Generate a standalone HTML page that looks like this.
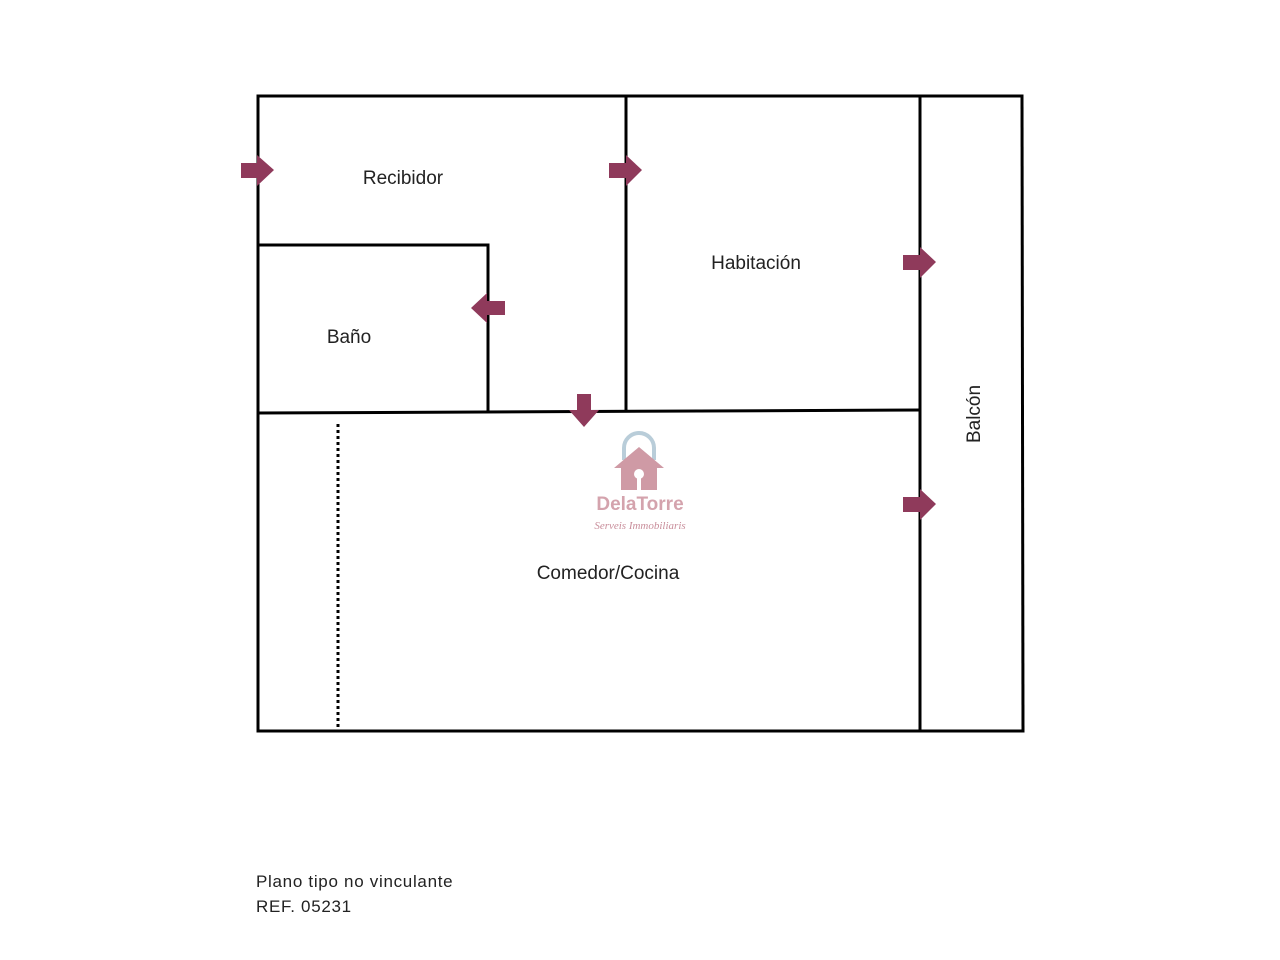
<!DOCTYPE html>
<html><head><meta charset="utf-8"><style>
html,body{margin:0;padding:0;background:#fff;}
svg{display:block;}
text{font-family:"Liberation Sans",sans-serif;fill:#222;}
</style></head><body>
<svg width="1280" height="960" viewBox="0 0 1280 960" xmlns="http://www.w3.org/2000/svg">
<g stroke="#000" stroke-width="3" fill="none" stroke-linecap="square">
<line x1="258" y1="96" x2="1022" y2="96"/>
<line x1="258" y1="96" x2="258" y2="731"/>
<line x1="258" y1="731" x2="1023" y2="731"/>
<line x1="1022" y1="96" x2="1023" y2="731"/>
<line x1="626" y1="96" x2="626" y2="411"/>
<line x1="920" y1="96" x2="920" y2="731"/>
<line x1="258" y1="413" x2="920" y2="410"/>
<line x1="258" y1="245" x2="488" y2="245"/>
<line x1="488" y1="245" x2="488" y2="411"/>
</g>
<line x1="338" y1="424" x2="338" y2="731" stroke="#000" stroke-width="3" stroke-dasharray="3 3"/>
<g fill="#8f3a5b">
<polygon points="241,163 257,163 257,155 274,170 257,186 257,178 241,178"/>
<polygon points="609,163 626,163 626,155 642,170 626,186 626,178 609,178"/>
<polygon points="903,255 920,255 920,247 936,262 920,278 920,270 903,270"/>
<polygon points="903,497 920,497 920,489 936,504 920,520 920,512 903,512"/>
<polygon points="505,301 487,301 487,293 471,308 487,323 487,315 505,315"/>
<polygon points="577,394 591,394 591,410 599,410 584,427 569,410 577,410"/>
</g>
<path d="M624,460 L624,448 A15,15 0 0 1 654,448 L654,460" fill="none" stroke="#b9cdd9" stroke-width="4"/>
<polygon points="639,447 664,468 657,468 657,490 621,490 621,468 614,468" fill="#cf9aa5"/>
<circle cx="639" cy="474" r="5" fill="#fff"/>
<rect x="637" y="474" width="4" height="16" fill="#fff"/>
<text x="640" y="510" text-anchor="middle" font-size="19" style="fill:#d4a3ad" font-weight="bold">DelaTorre</text>
<text x="640" y="529" text-anchor="middle" font-size="11" font-style="italic" style="fill:#c98e9b;font-family:'Liberation Serif',serif">Serveis Immobiliaris</text>
<g font-size="19">
<text x="403" y="184" text-anchor="middle">Recibidor</text>
<text x="756" y="269" text-anchor="middle">Habitación</text>
<text x="349" y="343" text-anchor="middle">Baño</text>
<text x="608" y="579" text-anchor="middle">Comedor/Cocina</text>
<text transform="translate(980,414) rotate(-90)" text-anchor="middle">Balcón</text>
</g>
<g font-size="17" style="letter-spacing:0.7px">
<text x="256" y="887">Plano tipo no vinculante</text>
<text x="256" y="912">REF. 05231</text>
</g>
</svg>
</body></html>
